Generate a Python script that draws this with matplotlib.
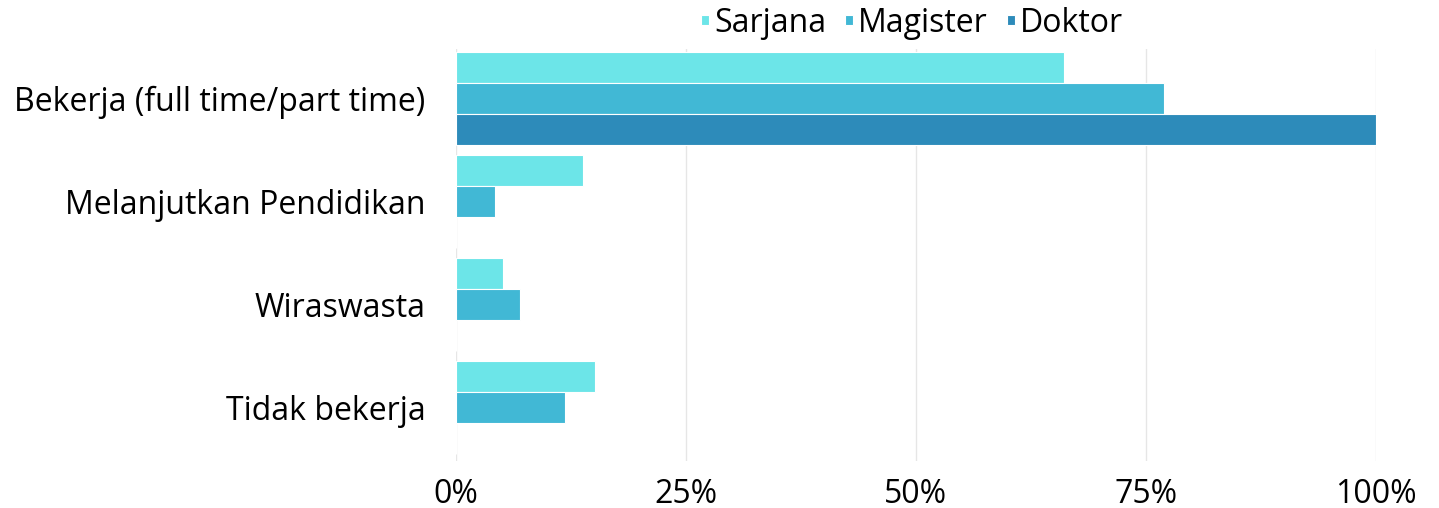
import numpy as np
import matplotlib.pyplot as plt

plt.rcParams['font.family'] = ['Open Sans', 'DejaVu Sans']

# Data (percent)
categories = ['Bekerja (full time/part time)', 'Melanjutkan Pendidikan',
              'Wiraswasta', 'Tidak bekerja']
sarjana = [66.1, 13.8, 5.1, 15.1]
magister = [77.0, 4.2, 7.0, 11.9]
doktor = [100.0, 0, 0, 0]
series = ['Sarjana', 'Magister', 'Doktor']
colors = ['#6CE5E8', '#41B8D5', '#2D8BBA']

fig = plt.figure(figsize=(14.39, 5.08), dpi=100)
ax = fig.add_axes([456 / 1439, 1 - 461 / 508, 920 / 1439, 412 / 508])

y = np.arange(len(categories))
h = 0.3
for i, (vals, name) in enumerate(zip([sarjana, magister, doktor], series)):
    ax.barh(y + (i - 1) * h, vals, height=h, color=colors[i], label=name,
            edgecolor='white', linewidth=0.8, zorder=3)

ax.set_ylim(len(categories) - 0.48, -0.48)
ax.set_xlim(0, 100)
ax.set_xticks([0, 25, 50, 75, 100])
ax.set_xticklabels(['0%', '25%', '50%', '75%', '100%'], fontsize=23)
ax.set_yticks(y)
ax.set_yticklabels(categories, fontsize=23)
ax.tick_params(length=0)
ax.tick_params(axis='x', pad=12)
ax.tick_params(axis='y', pad=22)
ax.grid(axis='x', color='#E6E6E6', linewidth=1, zorder=0)
for s in ax.spines.values():
    s.set_visible(False)

leg = fig.legend(*ax.get_legend_handles_labels(), loc='center', ncol=3,
                 bbox_to_anchor=(912 / 1439, 1 - 23 / 508), frameon=False,
                 fontsize=23, handlelength=0.25, handleheight=0.12,
                 handletextpad=0.15, columnspacing=0.6)

fig.savefig('out.png', dpi=100)
